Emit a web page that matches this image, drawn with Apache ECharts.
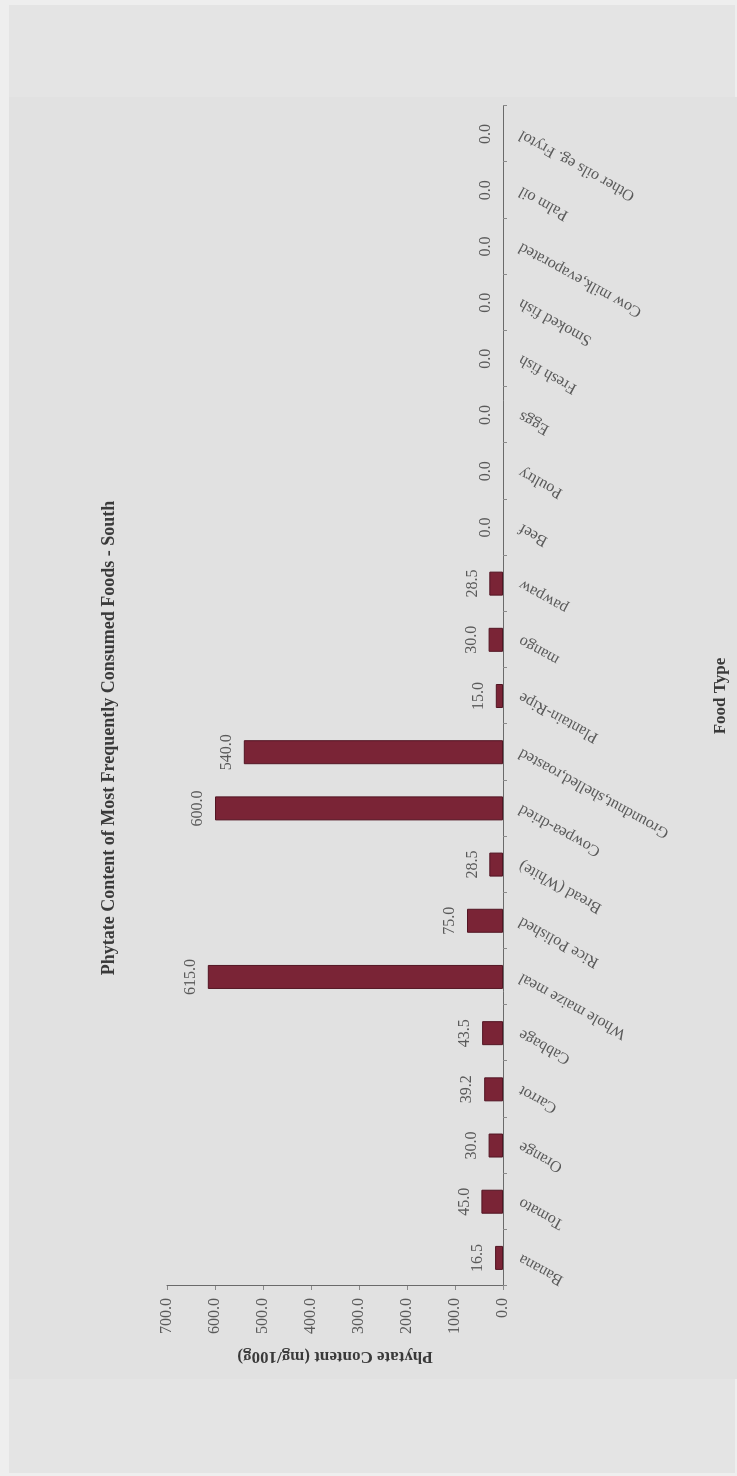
<!DOCTYPE html>
<html>
<head>
<meta charset="utf-8">
<script src="https://cdn.jsdelivr.net/npm/echarts@6/dist/echarts.min.js"></script>
<style>
  html, body { margin: 0; padding: 0; background: #eeeeee; width: 737px; height: 1476px; overflow: hidden; }
  #page { position: absolute; left: 9px; top: 5px; width: 726px; height: 1468px; background: #e4e4e4; }
  /* The chart is laid out landscape and turned a quarter-turn counter-clockwise onto the page */
  #chart {
    position: absolute; left: 0; top: 0;
    width: 1476px; height: 737px;
    transform-origin: 0 0;
    transform: translate(0px, 1476px) rotate(-90deg);
  }
</style>
</head>
<body>
<div id="page"></div>
<div id="chart"></div>
<script>
// Food items in the order they appear along the category axis
const categories = [
  'Banana', 'Tomato', 'Orange', 'Carrot', 'Cabbage', 'Whole maize meal',
  'Rice Polished', 'Bread (White)', 'Cowpea-dried', 'Groundnut,shelled,roasted',
  'Plantain-Ripe', 'mango', 'pawpaw', 'Beef', 'Poultry', 'Eggs', 'Fresh fish',
  'Smoked fish', 'Cow milk,evaporated', 'Palm oil', 'Other oils eg. Frytol'
];

// Phytate content, mg per 100 g
const phytateValues = [
  16.5, 45.0, 30.0, 39.2, 43.5, 615.0,
  75.0, 28.5, 600.0, 540.0,
  15.0, 30.0, 28.5, 0.0, 0.0, 0.0, 0.0,
  0.0, 0.0, 0.0, 0.0
];

// Value axis range and step
const valueMin = 0;
const valueMax = 700;
const valueStep = 100;

const serif = '"Liberation Serif", "Times New Roman", "DejaVu Serif", serif';

const chart = echarts.init(document.getElementById('chart'), null, { renderer: 'canvas' });

// Bars with a value get a dark outline; empty ones leave only their value label
const barData = phytateValues.map(v => ({
  value: v,
  itemStyle: v > 0
    ? { color: '#7a2436', borderColor: '#521523', borderWidth: 1 }
    : { color: 'transparent', borderWidth: 0 }
}));

chart.setOption({
  backgroundColor: 'transparent',
  animation: false,
  graphic: [{
    type: 'rect',
    silent: true,
    z: -10,
    shape: { x: 97, y: 9, width: 1282, height: 728 },
    style: { fill: '#e1e1e1' }
  }],
  title: {
    text: 'Phytate Content of Most Frequently Consumed Foods - South',
    left: 'center',
    top: 95,
    textStyle: { fontFamily: serif, fontSize: 18, fontWeight: 'bold', color: '#3a3a3a' }
  },
  grid: { left: 190, right: 106, top: 167, bottom: 234, containLabel: false },
  xAxis: {
    type: 'category',
    data: categories,
    boundaryGap: true,
    name: 'Food Type',
    nameLocation: 'middle',
    nameGap: 209,
    nameTextStyle: { fontFamily: serif, fontSize: 17, fontWeight: 'bold', color: '#3a3a3a' },
    axisLine: { show: true, lineStyle: { color: '#6a6a6a', width: 1 } },
    axisTick: { show: true, alignWithLabel: false, inside: false, length: 4, lineStyle: { color: '#8a8a8a' } },
    axisLabel: {
      interval: 0,
      rotate: 61,
      margin: 17,
      hideOverlap: false,
      fontFamily: serif,
      fontSize: 16,
      color: '#5a5a5a'
    },
    splitLine: { show: false }
  },
  yAxis: {
    type: 'value',
    min: valueMin,
    max: valueMax,
    interval: valueStep,
    name: 'Phytate Content (mg/100g)',
    nameLocation: 'middle',
    nameGap: 62,
    nameTextStyle: { fontFamily: serif, fontSize: 17, fontWeight: 'bold', color: '#3a3a3a' },
    axisLine: { show: true, lineStyle: { color: '#6a6a6a', width: 1 } },
    axisTick: { show: true, inside: false, length: 4, lineStyle: { color: '#8a8a8a' } },
    axisLabel: {
      margin: 12,
      fontFamily: serif,
      fontSize: 16,
      color: '#5a5a5a',
      formatter: v => v.toFixed(1)
    },
    splitLine: { show: false }
  },
  series: [{
    type: 'bar',
    data: barData,
    barWidth: 24,
    label: {
      show: true,
      position: 'top',
      distance: 9,
      fontFamily: serif,
      fontSize: 16,
      color: '#5a5a5a',
      formatter: p => Number(p.value).toFixed(1)
    }
  }]
});
</script>
</body>
</html>
